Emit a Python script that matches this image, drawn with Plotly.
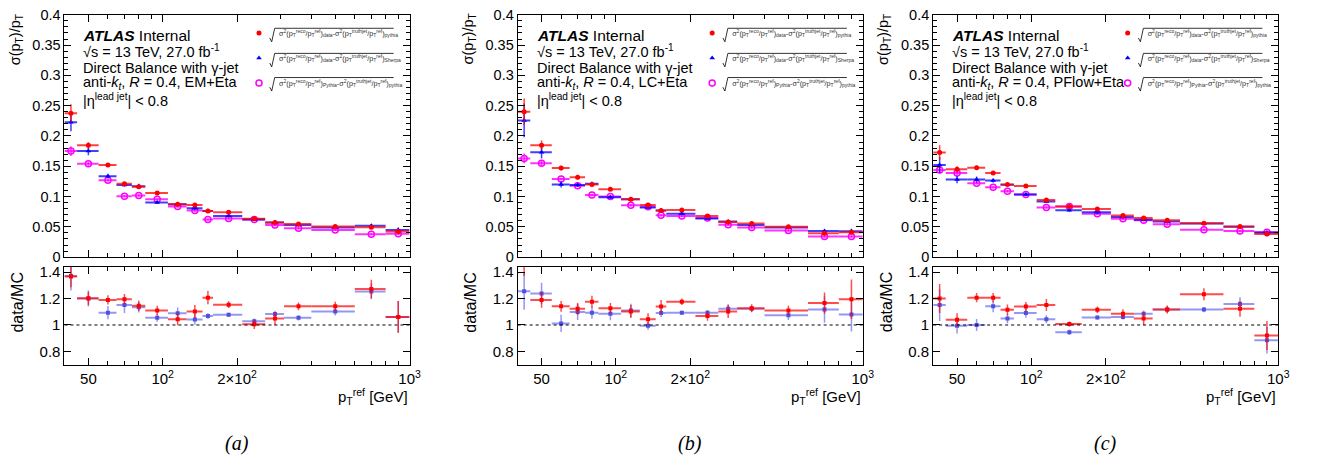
import numpy as np
import plotly.graph_objects as go

W, H = 1318, 467

# bin edges in p_T^ref [GeV]
edges_16 = [40, 45, 55, 65, 75, 85, 105, 125, 145, 160, 210, 260, 310, 400, 600, 800, 1000]
edges_15 = [40, 45, 55, 65, 75, 85, 105, 125, 160, 210, 260, 310, 400, 600, 800, 1000]

# (a) EM+Eta
em_data_py = [0.2375, 0.1845, 0.152, 0.121, 0.116, 0.106, 0.0875, 0.086, 0.076, 0.074, 0.0634, 0.057, 0.0546, 0.0504, 0.0493, 0.0424]
em_data_py_err = [0.015, 0.005, 0.003, 0.003, 0.002, 0.002, 0.002, 0.002, 0.002, 0.002, 0.002, 0.002, 0.002, 0.002, 0.002, 0.003]
em_data_sh = [0.2227, 0.175, 0.1336, 0.119, 0.117, 0.090, 0.0875, 0.0806, 0.076, 0.0679, 0.062, 0.0573, 0.053, 0.0488, 0.052, 0.045]
em_data_sh_err = [0.015, 0.007, 0.004, 0.003, 0.004, 0.002, 0.002, 0.002, 0.002, 0.002, 0.002, 0.002, 0.002, 0.002, 0.002, 0.004]
em_py_py = [0.175, 0.154, 0.127, 0.1007, 0.1018, 0.0954, 0.0838, 0.077, 0.062, 0.0636, 0.062, 0.053, 0.0477, 0.045, 0.038, 0.0387]
em_py_py_err = [0.008, 0.003, 0.002, 0.002, 0.002, 0.002, 0.002, 0.002, 0.002, 0.002, 0.002, 0.002, 0.002, 0.002, 0.002, 0.002]
em_ratio_py = [1.366, 1.202, 1.19, 1.195, 1.146, 1.11, 1.044, 1.102, 1.207, 1.154, 1.005, 1.049, 1.141, 1.141, 1.273, 1.061]
em_ratio_py_err = [0.08, 0.05, 0.035, 0.04, 0.04, 0.035, 0.045, 0.05, 0.05, 0.025, 0.035, 0.05, 0.03, 0.035, 0.07, 0.12]
em_ratio_sh = [1.37, 1.2, 1.093, 1.151, 1.134, 1.054, 1.088, 1.041, 1.068, 1.078, 1.029, 1.083, 1.054, 1.102, 1.254, 1.061]
em_ratio_sh_err = [0.11, 0.06, 0.05, 0.06, 0.04, 0.03, 0.045, 0.04, 0.02, 0.015, 0.02, 0.025, 0.02, 0.03, 0.06, 0.12]

# (b) LC+Eta
lc_data_py = [0.240, 0.1845, 0.147, 0.132, 0.120, 0.112, 0.0957, 0.086, 0.077, 0.078, 0.068, 0.058, 0.0556, 0.050, 0.0396, 0.041]
lc_data_py_err = [0.022, 0.008, 0.004, 0.004, 0.003, 0.002, 0.002, 0.002, 0.002, 0.002, 0.002, 0.002, 0.002, 0.002, 0.002, 0.003]
lc_data_sh = [0.2257, 0.173, 0.120, 0.119, 0.121, 0.099, 0.0957, 0.082, 0.077, 0.0717, 0.0636, 0.0588, 0.053, 0.049, 0.0433, 0.0428]
lc_data_sh_err = [0.028, 0.010, 0.005, 0.003, 0.003, 0.002, 0.002, 0.002, 0.002, 0.002, 0.002, 0.002, 0.002, 0.002, 0.002, 0.004]
lc_py_py = [0.163, 0.155, 0.129, 0.118, 0.1027, 0.100, 0.0856, 0.083, 0.069, 0.068, 0.0647, 0.0535, 0.049, 0.0438, 0.034, 0.034]
lc_py_py_err = [0.008, 0.004, 0.002, 0.002, 0.002, 0.002, 0.002, 0.002, 0.002, 0.002, 0.002, 0.002, 0.002, 0.002, 0.002, 0.002]
lc_ratio_py = [1.47, 1.19, 1.141, 1.122, 1.176, 1.127, 1.102, 1.044, 1.139, 1.176, 1.068, 1.102, 1.127, 1.11, 1.166, 1.195]
lc_ratio_py_err = [0.1, 0.06, 0.04, 0.045, 0.045, 0.04, 0.05, 0.045, 0.05, 0.025, 0.035, 0.05, 0.03, 0.035, 0.08, 0.15]
lc_ratio_sh = [1.256, 1.239, 1.012, 1.098, 1.093, 1.085, 1.11, 0.995, 1.09, 1.093, 1.093, 1.122, 1.122, 1.073, 1.117, 1.08]
lc_ratio_sh_err = [0.14, 0.08, 0.065, 0.06, 0.045, 0.05, 0.05, 0.03, 0.03, 0.015, 0.02, 0.035, 0.02, 0.035, 0.1, 0.13]

# (c) PFlow+Eta
pf_data_py = [0.1728, 0.145, 0.1477, 0.139, 0.12, 0.1173, 0.0944, 0.0837, 0.0795, 0.0688, 0.0645, 0.0608, 0.056, 0.0507, 0.0384]
pf_data_py_err = [0.012, 0.005, 0.003, 0.003, 0.002, 0.002, 0.002, 0.002, 0.002, 0.002, 0.002, 0.002, 0.002, 0.002, 0.004]
pf_data_sh = [0.152, 0.128, 0.128, 0.1264, 0.1195, 0.1035, 0.0917, 0.0773, 0.0741, 0.0661, 0.0619, 0.0587, 0.0555, 0.0501, 0.0405]
pf_data_sh_err = [0.013, 0.006, 0.005, 0.003, 0.002, 0.002, 0.002, 0.002, 0.002, 0.002, 0.002, 0.002, 0.002, 0.002, 0.003]
pf_py_py = [0.144, 0.1387, 0.122, 0.1152, 0.1088, 0.1035, 0.0821, 0.0837, 0.0715, 0.0635, 0.0608, 0.0544, 0.0453, 0.0432, 0.041]
pf_py_py_err = [0.006, 0.003, 0.002, 0.002, 0.002, 0.002, 0.002, 0.002, 0.002, 0.002, 0.002, 0.002, 0.002, 0.002, 0.002]
pf_ratio_py = [1.2, 1.039, 1.207, 1.207, 1.115, 1.139, 1.151, 1.007, 1.115, 1.085, 1.049, 1.117, 1.232, 1.122, 0.92]
pf_ratio_py_err = [0.11, 0.05, 0.035, 0.035, 0.04, 0.035, 0.045, 0.02, 0.025, 0.035, 0.05, 0.03, 0.045, 0.06, 0.11]
pf_ratio_sh = [1.151, 0.995, 1.0, 1.141, 1.049, 1.09, 1.044, 0.946, 1.056, 1.061, 1.085, 1.117, 1.117, 1.159, 0.885]
pf_ratio_sh_err = [0.12, 0.06, 0.045, 0.045, 0.035, 0.035, 0.03, 0.02, 0.015, 0.02, 0.025, 0.025, 0.02, 0.05, 0.1]

jet_labels = ["EM+Eta", "LC+Eta", "PFlow+Eta"]
captions = ["(a)", "(b)", "(c)"]

x_ticks = [50, 100, 200, 1000]
x_ticktext = ["50", "10<sup>2</sup>", "2×10<sup>2</sup>", "10<sup>3</sup>"]
x_minor = [60, 70, 80, 90, 300, 400, 500, 600, 700, 800, 900]

FONT = "Liberation Sans, Arial, sans-serif"

leg_red = ("σ<sup>2</sup>(p<sub>T</sub><sup>reco</sup>/p<sub>T</sub><sup>ref</sup>)<sub>data</sub>"
           "-σ<sup>2</sup>(p<sub>T</sub><sup>truthjet</sup>/p<sub>T</sub><sup>ref</sup>)<sub>pythia</sub>")
leg_blue = ("σ<sup>2</sup>(p<sub>T</sub><sup>reco</sup>/p<sub>T</sub><sup>ref</sup>)<sub>data</sub>"
            "-σ<sup>2</sup>(p<sub>T</sub><sup>truthjet</sup>/p<sub>T</sub><sup>ref</sup>)<sub>Sherpa</sub>")
leg_mag = ("σ<sup>2</sup>(p<sub>T</sub><sup>reco</sup>/p<sub>T</sub><sup>ref</sup>)<sub>Pythia</sub>"
           "-σ<sup>2</sup>(p<sub>T</sub><sup>truthjet</sup>/p<sub>T</sub><sup>ref</sup>)<sub>pythia</sub>")

panels = [
    dict(edges=edges_16, red=em_data_py, red_e=em_data_py_err, blue=em_data_sh, blue_e=em_data_sh_err,
         mag=em_py_py, mag_e=em_py_py_err, rr=em_ratio_py, rr_e=em_ratio_py_err, rb=em_ratio_sh, rb_e=em_ratio_sh_err,
         xl=65, xr=413),
    dict(edges=edges_16, red=lc_data_py, red_e=lc_data_py_err, blue=lc_data_sh, blue_e=lc_data_sh_err,
         mag=lc_py_py, mag_e=lc_py_py_err, rr=lc_ratio_py, rr_e=lc_ratio_py_err, rb=lc_ratio_sh, rb_e=lc_ratio_sh_err,
         xl=522, xr=870),
    dict(edges=edges_15, red=pf_data_py, red_e=pf_data_py_err, blue=pf_data_sh, blue_e=pf_data_sh_err,
         mag=pf_py_py, mag_e=pf_py_py_err, rr=pf_ratio_py, rr_e=pf_ratio_py_err, rb=pf_ratio_sh, rb_e=pf_ratio_sh_err,
         xl=941, xr=1289),
]

TOP = (7, 258)     # pixel rows of the upper pad
RAT = (268, 370)   # pixel rows of the ratio pad
LEG_ROWS = [30, 56, 81]


def px(x):
    return x / W


def py(y):
    return 1 - y / H


fig = go.Figure()
layout = dict(width=W, height=H, margin=dict(l=0, r=0, t=0, b=0),
              paper_bgcolor="white", plot_bgcolor="white",
              font=dict(family=FONT, color="black"))
annotations = []
shapes = []

axis_common = dict(showline=True, linecolor="black", linewidth=1, mirror="allticks",
                   ticks="inside", tickcolor="black", showgrid=False, zeroline=False)

for i, p in enumerate(panels):
    edges = np.array(p["edges"], dtype=float)
    lo, hi = edges[:-1], edges[1:]
    xc = (lo + hi) / 2
    ex = dict(type="data", symmetric=False, array=hi - xc, arrayminus=xc - lo, width=0, thickness=2)

    nt, nr = 2 * i + 1, 2 * i + 2
    xt, yt = f"x{nt}", f"y{nt}"
    xr_, yr_ = f"x{nr}", f"y{nr}"
    leg = "legend" if i == 0 else f"legend{i + 1}"

    # upper pad
    series = [
        (p["mag"], p["mag_e"], "rgba(255,0,255,0.8)",
         dict(symbol="circle-open", size=6, color="#ff00ff", line=dict(width=1.5)), leg_mag, 3),
        (p["blue"], p["blue_e"], "rgba(0,0,255,0.75)",
         dict(symbol="triangle-up", size=5, color="#0000ff"), leg_blue, 2),
        (p["red"], p["red_e"], "rgba(255,0,0,0.75)",
         dict(symbol="circle", size=5, color="#ff0000"), leg_red, 1),
    ]
    for vals, errs, col, mk, name, rank in series:
        fig.add_trace(go.Scatter(
            x=xc, y=vals, mode="markers", marker=mk, name=name,
            error_x=dict(ex, color=col),
            error_y=dict(type="data", array=errs, width=0, thickness=1.5, color=col),
            xaxis=xt, yaxis=yt, legend=leg, legendrank=rank, legendgroup=f"{i}{rank}",
            showlegend=True, hoverinfo="skip"))

    # ratio pad
    for vals, errs, col, mcol in [
        (p["rb"], p["rb_e"], "rgba(80,80,235,0.6)", "#5050e0"),
        (p["rr"], p["rr_e"], "rgba(255,0,0,0.7)", "#ff0000"),
    ]:
        fig.add_trace(go.Scatter(
            x=xc, y=vals, mode="markers", marker=dict(symbol="square", size=4, color=mcol),
            error_x=dict(ex, color=col),
            error_y=dict(type="data", array=errs, width=0, thickness=1.5, color=col),
            xaxis=xr_, yaxis=yr_, showlegend=False, hoverinfo="skip", cliponaxis=True))

    xdom = [px(p["xl"]), px(p["xr"])]
    xax = dict(axis_common, type="log", range=[np.log10(40), 3], domain=xdom,
               tickmode="array", tickvals=x_ticks, ticktext=x_ticktext, ticklen=7,
               minor=dict(tickmode="array", tickvals=x_minor, ticks="inside", ticklen=4, tickcolor="black"))
    layout[f"xaxis{nt}"] = dict(xax, anchor=yt, showticklabels=False)
    layout[f"xaxis{nr}"] = dict(xax, anchor=yr_, showticklabels=True, tickfont=dict(size=15))
    layout[f"yaxis{nt}"] = dict(axis_common, anchor=xt, domain=[py(TOP[1]), py(TOP[0])],
                                range=[0, 0.4], dtick=0.05, ticklen=7, tickfont=dict(size=14.5),
                                minor=dict(dtick=0.01, ticks="inside", ticklen=4, tickcolor="black"))
    layout[f"yaxis{nr}"] = dict(axis_common, anchor=xr_, domain=[py(RAT[1]), py(RAT[0])],
                                range=[0.695, 1.44], tickmode="array", tickvals=[0.8, 1, 1.2, 1.4],
                                ticktext=["0.8", "1", "1.2", "1.4"], ticklen=7, tickfont=dict(size=15))

    # reference line at 1
    shapes.append(dict(type="line", xref=f"{xr_} domain", yref=yr_, x0=0, x1=1, y0=1, y1=1,
                       line=dict(color="black", width=1, dash="dot")))

    xl, xr = p["xl"], p["xr"]
    # axis titles
    annotations.append(dict(text="σ(p<sub>T</sub>)/p<sub>T</sub>", x=px(xl - 49), y=py(4),
                            xref="paper", yref="paper", xanchor="center", yanchor="top",
                            textangle=-90, showarrow=False, font=dict(size=14.5)))
    annotations.append(dict(text="data/MC", x=px(xl - 47), y=py(RAT[0] + 4),
                            xref="paper", yref="paper", xanchor="center", yanchor="top",
                            textangle=-90, showarrow=False, font=dict(size=16)))
    annotations.append(dict(text="p<sub>T</sub><sup>ref</sup> [GeV]", x=px(xr), y=py(402),
                            xref="paper", yref="paper", xanchor="right", yanchor="middle",
                            showarrow=False, font=dict(size=15)))
    # ATLAS label block
    info = ["<b><i>ATLAS</i></b> Internal",
            "√s = 13 TeV, 27.0 fb<sup>-1</sup>",
            "Direct Balance with γ-jet",
            f"anti-<i>k</i><sub><i>t</i></sub>, <i>R</i> = 0.4, {jet_labels[i]}",
            "|η<sup>lead jet</sup>| &lt; 0.8"]
    rows = [28, 45, 62, 78, 95]
    for k, (t, r) in enumerate(zip(info, rows)):
        annotations.append(dict(text=t, x=px(xl + 17), y=py(r), xref="paper", yref="paper",
                                xanchor="left", yanchor="middle", showarrow=False,
                                font=dict(size=15.5 if k == 0 else 14.5)))
    # caption
    annotations.append(dict(text=f"<i>{captions[i]}</i>", x=px((xl + xr) / 2), y=py(451),
                            xref="paper", yref="paper", xanchor="center", yanchor="middle",
                            showarrow=False, font=dict(size=20, family="Liberation Serif, serif")))

    # legend box
    layout[leg] = dict(x=px(xl + 176), y=py(LEG_ROWS[0] - 19), xanchor="left", yanchor="top",
                       bgcolor="rgba(0,0,0,0)", font=dict(size=7.2, color="#333333"),
                       itemwidth=30, tracegroupgap=6, traceorder="grouped")

    # radical signs over the legend texts
    for r in LEG_ROWS:
        x0 = xl + 207
        path = (f"M {px(x0)},{py(r + 1)} L {px(x0 + 2)},{py(r + 5)} "
                f"L {px(x0 + 5)},{py(r - 9)} L {px(xl + 332)},{py(r - 9)}")
        shapes.append(dict(type="path", xref="paper", yref="paper", path=path,
                           line=dict(color="black", width=0.8)))

layout["annotations"] = annotations
layout["shapes"] = shapes
fig.update_layout(**layout)

# the page keeps the browser's default body margin; drop it so the figure sits at the corner
fig.write_html("out.html", config={"displayModeBar": False},
               post_script="document.body.style.margin = '0px';")
